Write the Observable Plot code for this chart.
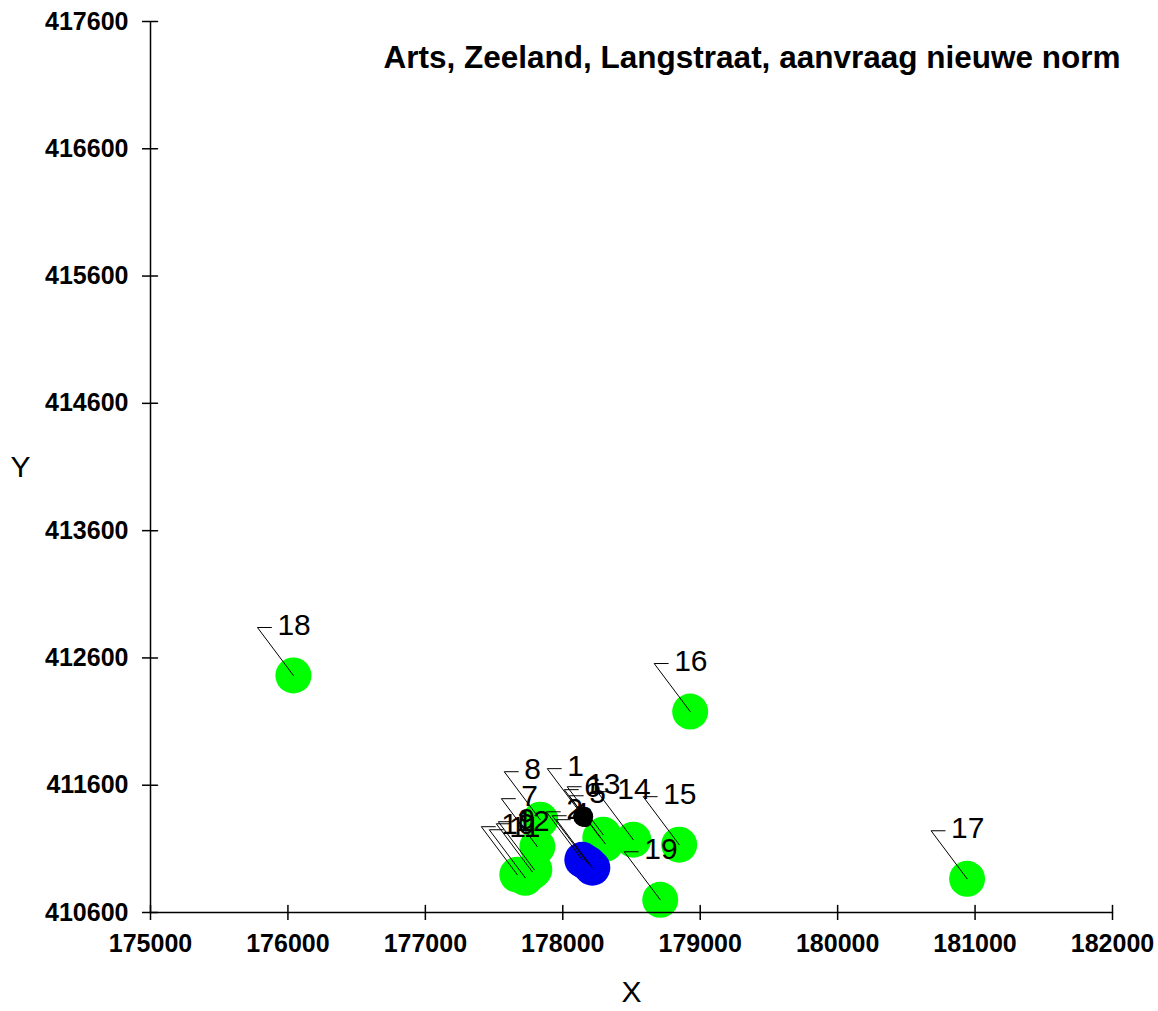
<!DOCTYPE html>
<html><head><meta charset="utf-8">
<script src="https://cdn.jsdelivr.net/npm/d3@7"></script>
<script src="https://cdn.jsdelivr.net/npm/@observablehq/plot@0.6"></script>
<style>
body{margin:0;background:#fff}
g[aria-label$="tick label"]{font-weight:bold;font-size:25px}
</style>
</head><body><div id="chart"></div>
<script>
const title = "Arts, Zeeland, Langstraat, aanvraag nieuwe norm";
const labels = ["1","2","3","4","5","6","7","8","9","10","11","12","13","14","15","16","17","18","19"];
const xs = [178149,178142,178215,178185,178309,178273,177815,177836,177793,177669,177727,177778,178294,178513,178847,178927,180942,176040,178709];
const ys = [411353,411014,410952,410983,411140,411188,411117,411329,410936,410897,410873,410920,411211,411172,411133,412179,410865,412462,410700];
const kinds = ["K","B","B","B","G","G","G","G","G","G","G","G","G","G","G","G","G","G","G"];
const kindOrder = ["G","B","K"];
const kindColors = ["#00ff00","#0000f0","#000000"];
const xTicks = [175000,176000,177000,178000,179000,180000,181000,182000];
const yTicks = [410600,411600,412600,413600,414600,415600,416600,417600];

const data = labels.map((l, i) => ({label: l, x: xs[i], y: ys[i], kind: kinds[i]}))
  .sort((a, b) => kindOrder.indexOf(a.kind) - kindOrder.indexOf(b.kind));

const leader = {draw(ctx) { ctx.moveTo(0, 0); ctx.lineTo(-36, -48); ctx.lineTo(-22, -48); }};
const tickUp = {draw(ctx) { ctx.moveTo(0, 0); ctx.lineTo(0, -7); }};
const tickRight = {draw(ctx) { ctx.moveTo(0, 0); ctx.lineTo(7, 0); }};

const plot = Plot.plot({
  width: 1158, height: 1011,
  marginLeft: 150, marginRight: 46, marginTop: 21, marginBottom: 99,
  style: {fontFamily: "'Liberation Sans', Arial, sans-serif", background: "#fff", color: "#000"},
  x: {domain: [175000, 182000]},
  y: {domain: [410600, 417600]},
  color: {domain: kindOrder, range: kindColors},
  marks: [
    Plot.dot(data.filter(d => d.kind !== "K"), {x: "x", y: "y", r: 18, fill: "kind"}),
    Plot.dot(data.filter(d => d.kind === "K"), {x: "x", y: "y", r: 10, fill: "kind"}),
    Plot.ruleX([175000], {stroke: "#000", strokeWidth: 1.5}),
    Plot.ruleY([410600], {stroke: "#000", strokeWidth: 1.5}),
    Plot.axisX(xTicks, {tickSize: 8, tickPadding: 14, tickFormat: d => String(d), label: null, stroke: "#000", strokeWidth: 1.5}),
    Plot.axisY(yTicks, {tickSize: 8, tickPadding: 14, tickFormat: d => String(d), label: null, stroke: "#000", strokeWidth: 1.5}),
    Plot.vector(xTicks, {x: d => d, y: () => 410600, length: 7, anchor: "start", shape: tickUp, stroke: "#000", strokeWidth: 1.5}),
    Plot.vector(yTicks, {x: () => 175000, y: d => d, length: 7, anchor: "start", shape: tickRight, stroke: "#000", strokeWidth: 1.5}),
    Plot.vector(data, {x: "x", y: "y", length: 60, anchor: "start", shape: leader, stroke: "#000", strokeWidth: 1}),
    Plot.text(data, {x: "x", y: "y", text: "label", dx: -16, dy: -50, textAnchor: "start", fontSize: 30, fill: "#000"}),
    Plot.text([title], {frameAnchor: "top-right", dx: 8, dy: 36, lineAnchor: "middle", textAnchor: "end", fontSize: 31.5, fontWeight: "bold", fill: "#000"}),
    Plot.text(["X"], {frameAnchor: "bottom", dy: 89, fontSize: 30, fill: "#000"}),
    Plot.text(["Y"], {frameAnchor: "left", dx: -140, fontSize: 30, fill: "#000"})
  ]
});
document.getElementById("chart").appendChild(plot);
</script>
</body></html>
